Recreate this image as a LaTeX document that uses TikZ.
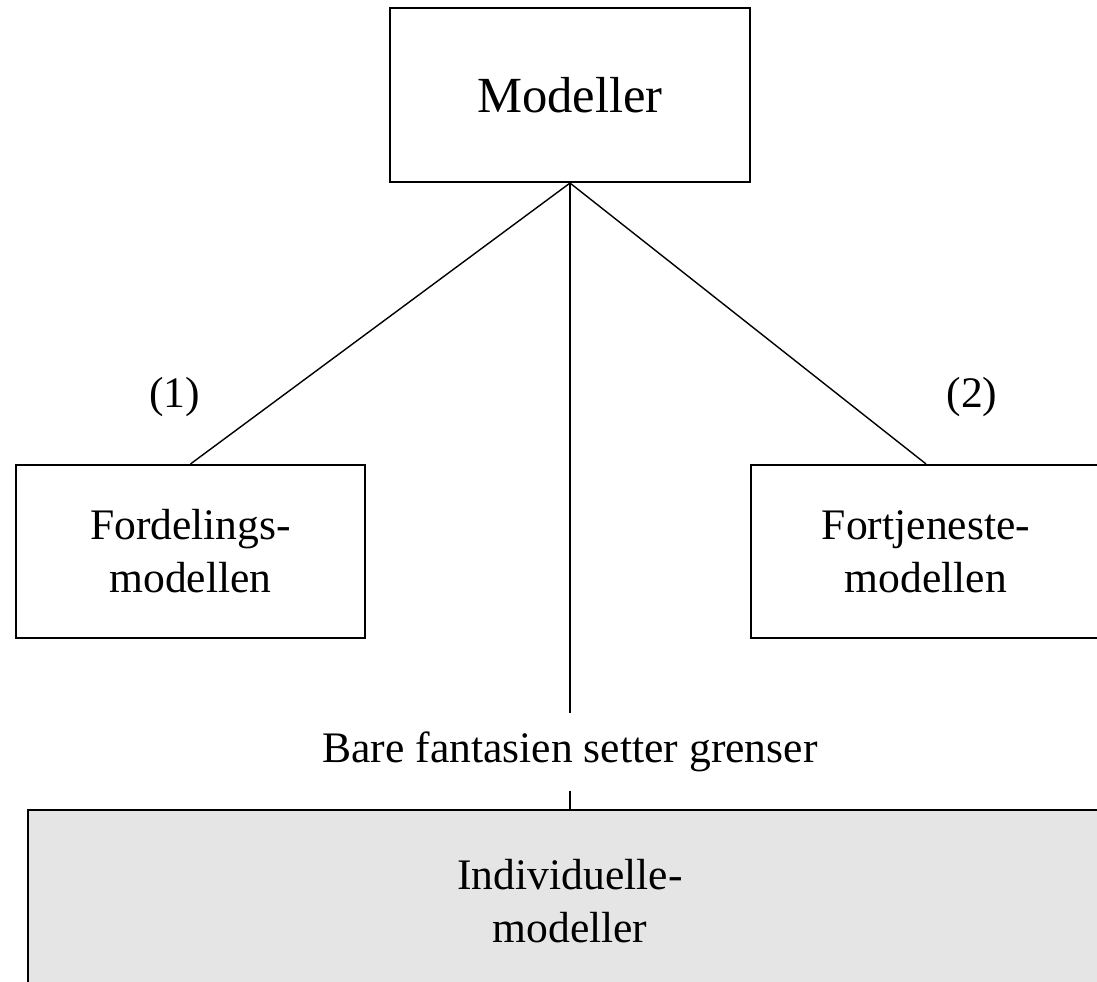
\documentclass[tikz,border=0pt]{standalone}
\usepackage{fontspec}
\setmainfont{Liberation Serif}
\usetikzlibrary{positioning}

\begin{document}
\begin{tikzpicture}
\tikzset{modelbox/.style={draw=black,line width=1.5pt,align=center,inner sep=0pt,font=\fontsize{31}{37.7}\selectfont},
link/.style={black,line width=1pt},
tag/.style={font=\fontsize{31}{37.7}\selectfont,text=black}}
\useasboundingbox (0,0) rectangle (27.425,24.525);

\node[modelbox,minimum width=9cm,minimum height=4.35cm,font=\fontsize{36}{43}\selectfont] (M) at (14.25,22.15) {Modeller};
\node[modelbox,minimum width=8.725cm,minimum height=4.325cm] (F) at (4.7625,10.7375) {Fordelings-\\modellen};
\node[modelbox,minimum width=8.75cm,minimum height=4.325cm] (T) at (23.15,10.7375) {Fortjeneste-\\modellen};
\node[modelbox,fill=gray!20,minimum width=27.1cm,minimum height=4.55cm] (I) at (14.25,2.0) {Individuelle-\\modeller};

\node[tag,inner xsep=0pt,inner ysep=0.46cm] (B) at (14.25,5.725) {Bare fantasien setter grenser};
\node[tag] (n1) at (4.3625,14.6) {(1)};
\node[tag] (n2) at (24.3,14.6) {(2)};

\draw[link] (M.south) -- (F.north);
\draw[link] (M.south) -- (T.north);
\draw[link] (M.south) -- (B.north);
\draw[link] (B.south) -- (I.north);

\end{tikzpicture}
\end{document}
